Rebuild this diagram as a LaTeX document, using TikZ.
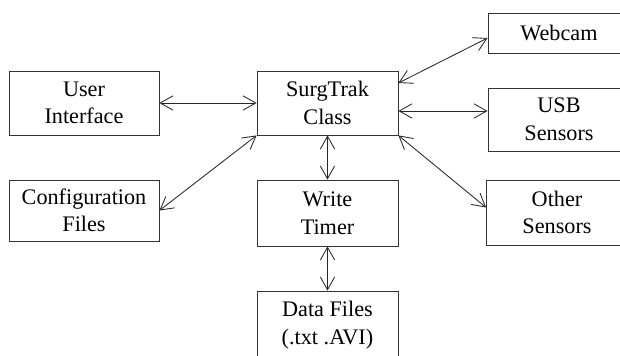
\documentclass[tikz,border=0pt]{standalone}
\usepackage{fontspec}
\setmainfont{Liberation Serif}
\usetikzlibrary{arrows.meta}
\tikzset{
	block/.style={draw=black!80, line width=0.6pt, align=center, inner sep=0pt,
		font=\fontsize{15.8}{19.6}\selectfont},
	link/.style={{Straight Barb[length=3.2mm,width=3.6mm]}-{Straight Barb[length=3.2mm,width=3.6mm]},
		draw=black!85, line width=0.6pt}
}

\begin{document}
\begin{tikzpicture}
	\useasboundingbox (0,0) rectangle (15.5,8.9);
	\clip (0,0) rectangle (15.5,8.9);
	% left column
	\node[block, minimum width=3.75cm, minimum height=1.6cm] (ui) at (2.1,6.325) {User\\Interface};
	\node[block, minimum width=3.75cm, minimum height=1.525cm] (config) at (2.1,3.6375) {Configuration\\Files};
	% middle column
	\node[block, minimum width=3.525cm, minimum height=1.6cm] (surg) at (8.1875,6.325) {SurgTrak\\Class};
	\node[block, minimum width=3.525cm, minimum height=1.65cm] (write) at (8.1875,3.575) {Write\\Timer};
	\node[block, minimum width=3.525cm, minimum height=1.7cm] (data) at (8.1875,0.775) {Data Files\\(.txt .AVI)};
	% right column (cut at the edge)
	\node[block, minimum width=3.55cm, minimum height=1.0cm] (webcam) at (13.975,8.075) {Webcam};
	\node[block, minimum width=3.55cm, minimum height=1.575cm] (usb) at (13.975,5.9125) {USB\\Sensors};
	\node[block, minimum width=3.525cm, minimum height=1.625cm] (other) at (13.925,3.5875) {Other\\Sensors};
	% connections
	\draw[link] (ui.east) -- (surg.west);
	\draw[link] (config.east) -- (surg.south west);
	\draw[link] ([yshift=5mm]surg.east) -- ([yshift=-1.25mm]webcam.west);
	\draw[link] ([yshift=-2mm]surg.east) -- ([yshift=-2mm]surg.east -| usb.west);
	\draw[link] (surg.south east) -- ([yshift=1.25mm]other.west);
	\draw[link] (surg.south) -- (write.north);
	\draw[link] (write.south) -- (data.north);
\end{tikzpicture}
\end{document}
